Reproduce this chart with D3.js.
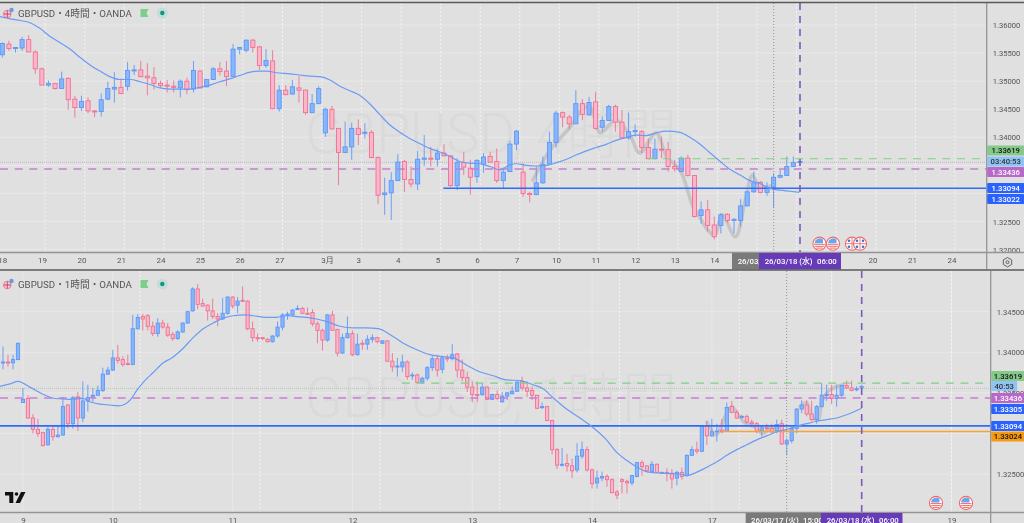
<!DOCTYPE html>
<html><head><meta charset="utf-8">
<script src="https://cdn.jsdelivr.net/npm/d3@7/dist/d3.min.js"></script>
<style>
html,body{margin:0;padding:0;background:#e0e0e0;overflow:hidden}
svg{display:block;filter:blur(0.45px)}
text{font-family:Roboto,"Noto Sans CJK JP",sans-serif}
</style></head><body><svg id="c" width="1024" height="523"></svg>
<script>
// ---- 4h panel (prices in 1/10000 units) ----
const open4h=[
13547,13566,13558,13559,13574,13552,13522,13493,13496,13487,
13505,13468,13453,13465,13447,13446,13468,13486,13489,13491,
13519,13520,13509,13506,13496,13493,13491,13488,13500,13486,
13518,13490,13503,13522,13518,13508,13557,13555,13573,13561,
13528,13536,13451,13484,13477,13488,13484,13444,13460,13408,
13450,13416,13373,13383,13416,13408,13409,13364,13298,13301,
13323,13357,13325,13317,13361,13363,13361,13372,13367,13314,
13355,13345,13330,13352,13366,13357,13323,13339,13388,13338,
13300,13298,13319,13352,13391,13444,13436,13424,13460,13440,
13463,13418,13430,13455,13427,13399,13410,13410,13382,13362,
13379,13378,13348,13339,13363,13332,13261,13271,13244,13243,
13263,13253,13252,13278,13303,13320,13302,13311,13329,13332,
13348,13356];
const high4h=[
13569,13572,13560,13579,13582,13555,13524,13501,13497,13517,
13507,13474,13474,13471,13449,13478,13499,13516,13505,13534,
13529,13536,13532,13525,13501,13502,13501,13503,13506,13536,
13520,13504,13525,13534,13536,13566,13561,13574,13575,13563,
13557,13555,13493,13493,13502,13509,13485,13477,13491,13453,
13456,13416,13428,13426,13432,13425,13413,13366,13328,13338,
13370,13360,13348,13376,13404,13383,13379,13388,13368,13363,
13374,13360,13361,13372,13374,13380,13346,13394,13413,13354,
13303,13349,13366,13410,13447,13446,13440,13484,13468,13472,
13481,13437,13458,13458,13449,13444,13423,13413,13398,13398,
13401,13392,13360,13366,13369,13333,13286,13288,13259,13265,
13265,13256,13290,13304,13339,13322,13320,13336,13342,13366,
13366,13358];
const low4h=[
13542,13554,13551,13554,13552,13513,13493,13490,13485,13487,
13449,13435,13447,13443,13436,13437,13466,13462,13477,13483,
13511,13507,13475,13485,13488,13480,13480,13471,13477,13480,
13487,13489,13503,13510,13491,13507,13548,13551,13551,13520,
13524,13450,13446,13475,13477,13462,13440,13443,13459,13401,
13414,13315,13372,13360,13386,13398,13363,13281,13262,13253,
13322,13303,13311,13306,13349,13348,13348,13366,13312,13306,
13333,13298,13319,13337,13355,13319,13309,13339,13377,13294,
13284,13297,13317,13351,13382,13418,13414,13424,13431,13439,
13414,13410,13429,13410,13398,13396,13401,13372,13361,13361,
13363,13339,13339,13338,13330,13257,13246,13232,13218,13229,
13248,13229,13241,13277,13301,13300,13296,13274,13327,13331,
13347,13355];
const close4h=[
13567,13558,13560,13574,13552,13522,13493,13496,13487,13504,
13467,13453,13464,13447,13446,13467,13487,13489,13478,13519,
13520,13508,13506,13496,13492,13491,13489,13500,13485,13519,
13488,13503,13522,13517,13508,13557,13560,13573,13560,13528,
13537,13451,13484,13476,13490,13484,13444,13460,13487,13450,
13415,13373,13383,13416,13405,13409,13364,13297,13301,13323,
13356,13325,13317,13361,13363,13361,13372,13367,13314,13355,
13347,13329,13359,13365,13356,13323,13338,13388,13411,13300,
13298,13319,13352,13391,13443,13436,13424,13460,13441,13462,
13416,13430,13455,13427,13399,13410,13412,13382,13362,13379,
13378,13348,13344,13363,13332,13259,13271,13243,13223,13262,
13252,13254,13278,13303,13319,13302,13311,13329,13332,13348,
13355,13357];
const maBar4h=[-0.35,1.2,2.7,4.2,5.7,7.2,8.7,10.3,11.8,13.3,14.8,16.3,17.8,19.4,20.9,22.4,23.9,25.4,26.9,28.5,30,31.5,33,34.5,36,37.6,39.1,40.1,41.6,43.6,45.1,46.7,48.2,49.7,51.2,52.7,54.2,55.8,57.3,58.8,60.3,61.8,63.3,64.9,66.4,67.9,69.4,70.9,72.4,74,75.5,77,78,79.5,81,82.6,84.1,85.6,87.1,88.6,90.1,91.7,93.2,94.7,96.2,97.7,99.2,100.8,102.8,104.3,105.8,107.3,108.9,110.4,111.9,113.4,114.9,116.4,118,119.5,120.9];
const maVal4h=[13615,13611,13608,13604,13594,13580,13569,13557,13542,13529,13518,13508,13503,13503,13499,13494,13488,13486,13486,13486,13489,13493,13499,13504,13510,13516,13518,13518,13515,13513,13511,13509,13508,13502,13491,13483,13475,13459,13440,13422,13409,13398,13389,13380,13374,13366,13357,13354,13353,13348,13342,13351,13353,13350,13349,13350,13355,13361,13369,13376,13382,13388,13395,13400,13404,13403,13408,13411,13409,13400,13388,13373,13357,13343,13333,13323,13318,13309,13306,13304,13302];
const waveBar4h=[80.5,82.9,86.1,88.2,89.2,90.7,93.1,95.2,96.7,99.2,100.8,102.8,104.8,105.8,107,108.1,109.2,111.2,112.7,113.8,114.9,116.9];
const waveVal4h=[13324,13374,13418,13452,13454,13408,13431,13404,13372,13408,13365,13342,13276,13258,13235,13226,13262,13223,13288,13333,13312,13315];
const dayBar4h=[0,6,12,18,24,30,36,42,49.25,54,60,66,72,78,84,90,96,102,108,132,138,144];
const dayLabel4h=["18","19","20","21","24","25","26","27","3月","3","4","5","6","7","10","11","12","13","14","20","21","24"];
const gridBar4h=[6,12,18,24,30,36,42,48,54,60,66,72,78,84,90,96,102,108,114,120,126,132,138,144];
const priceTicks4h=[13200,13250,13300,13350,13400,13450,13500,13550,13600];
const shownTicks4h=[13200,13250,13400,13450,13500,13550,13600];

// ---- 1h panel ----
const open1h=[
13397,13387,13388,13387,13391,13338,13343,13319,13305,13301,
13286,13305,13296,13298,13335,13312,13345,13319,13340,13345,
13347,13353,13373,13378,13393,13391,13386,13385,13429,13444,
13445,13432,13423,13436,13431,13422,13417,13425,13436,13451,
13478,13460,13458,13451,13444,13441,13448,13468,13458,13464,
13463,13429,13418,13418,13416,13413,13420,13431,13446,13446,
13453,13454,13448,13449,13435,13427,13415,13446,13428,13399,
13418,13423,13397,13411,13410,13416,13418,13411,13414,13389,
13382,13382,13388,13371,13372,13363,13368,13381,13392,13379,
13393,13392,13398,13378,13369,13357,13348,13348,13357,13342,
13348,13339,13346,13349,13352,13364,13356,13353,13347,13332,
13333,13316,13280,13261,13263,13260,13255,13272,13280,13255,
13239,13245,13247,13243,13228,13243,13241,13239,13247,13264,
13260,13253,13262,13252,13252,13251,13245,13252,13248,13273,
13280,13278,13309,13297,13302,13304,13303,13333,13326,13320,
13321,13314,13312,13303,13307,13306,13303,13312,13287,13291,
13306,13330,13335,13324,13317,13333,13347,13348,13343,13347,
13359,13356,13354,13356];
const high1h=[
13407,13407,13397,13397,13412,13356,13347,13324,13318,13302,
13308,13309,13310,13345,13336,13346,13351,13364,13360,13356,
13359,13381,13382,13403,13409,13395,13397,13446,13447,13447,
13447,13438,13442,13440,13436,13425,13427,13437,13451,13480,
13484,13466,13459,13466,13448,13467,13469,13469,13468,13481,
13464,13438,13423,13419,13417,13421,13438,13448,13450,13453,
13458,13456,13455,13453,13438,13429,13447,13451,13429,13423,
13444,13427,13423,13415,13421,13422,13419,13415,13415,13399,
13393,13397,13390,13375,13374,13370,13383,13395,13397,13396,
13397,13410,13399,13391,13376,13364,13364,13362,13358,13349,
13353,13351,13351,13358,13366,13370,13364,13358,13347,13338,
13334,13317,13282,13282,13275,13269,13288,13290,13284,13257,
13254,13253,13250,13245,13230,13245,13243,13249,13265,13267,
13261,13266,13263,13253,13257,13256,13254,13258,13274,13284,
13290,13310,13315,13318,13312,13318,13338,13340,13329,13323,
13323,13317,13314,13310,13312,13312,13317,13317,13294,13308,
13331,13341,13341,13340,13335,13362,13360,13360,13360,13360,
13365,13365,13358,13360];
const low1h=[
13386,13379,13382,13379,13390,13338,13318,13300,13296,13284,
13285,13291,13295,13297,13306,13306,13303,13314,13327,13339,
13347,13351,13372,13377,13386,13382,13384,13384,13428,13427,
13427,13420,13419,13429,13419,13414,13415,13424,13435,13450,
13453,13456,13439,13441,13432,13440,13446,13454,13448,13462,
13427,13413,13413,13415,13412,13412,13418,13427,13440,13445,
13452,13447,13446,13432,13411,13402,13413,13427,13395,13398,
13417,13395,13396,13403,13403,13412,13411,13410,13388,13376,
13370,13376,13366,13366,13362,13361,13365,13377,13370,13374,
13388,13390,13369,13364,13351,13339,13338,13346,13341,13341,
13341,13338,13341,13348,13351,13353,13345,13341,13330,13330,
13315,13274,13256,13259,13253,13245,13252,13269,13253,13232,
13232,13241,13234,13226,13219,13226,13226,13236,13246,13248,
13252,13252,13251,13251,13241,13232,13236,13243,13247,13272,
13275,13277,13286,13296,13290,13300,13302,13325,13318,13318,
13312,13310,13300,13296,13304,13300,13300,13286,13273,13288,
13300,13325,13321,13315,13312,13332,13340,13336,13333,13345,
13355,13352,13352,13355];
const close1h=[
13387,13388,13387,13391,13411,13342,13319,13305,13300,13285,
13305,13296,13298,13333,13312,13344,13319,13340,13344,13347,
13353,13373,13378,13393,13390,13385,13385,13429,13443,13441,
13432,13423,13436,13431,13421,13417,13425,13436,13450,13478,
13459,13457,13451,13444,13441,13448,13468,13457,13463,13463,
13429,13418,13417,13417,13413,13420,13431,13446,13447,13452,
13454,13448,13447,13435,13427,13415,13446,13427,13399,13418,
13423,13397,13410,13410,13416,13418,13413,13414,13389,13382,
13383,13388,13370,13372,13363,13368,13381,13392,13378,13393,
13392,13397,13378,13369,13357,13348,13347,13357,13342,13348,
13343,13346,13350,13352,13363,13356,13352,13347,13331,13333,
13316,13280,13261,13262,13260,13254,13272,13280,13255,13238,
13245,13247,13243,13227,13224,13241,13239,13248,13264,13259,
13254,13262,13252,13252,13251,13244,13252,13247,13273,13280,
13278,13309,13297,13302,13303,13302,13332,13326,13319,13321,
13314,13312,13303,13307,13306,13302,13311,13287,13291,13306,
13330,13335,13324,13317,13333,13347,13348,13343,13347,13359,
13356,13353,13355,13358];
const maBar1h=[0.4,2.4,4,6.4,9.1,11.4,14.4,17.1,18.4,20.4,22.4,24.1,25.4,26.6,27.8,29.1,31.1,33.1,34.8,37.1,39.1,41.1,43.1,45.1,47.1,49.5,51.1,53.8,55.8,57.8,59.8,61.8,63.8,65.8,68.5,71.2,73.8,76.2,78.5,81.2,83.9,86.5,88.5,91.2,93.9,96.5,99.2,101.9,104.6,107.2,109.2,111.2,113.9,116.6,118.6,121.9,123.9,125.9,127.9,129.9,132.6,136.6,137.9,139.9,141.9,144,146,148,150,152,154,156,158,160,162,164,166,168,170,173];
const maVal1h=[13358,13361,13364,13357,13348,13343,13342,13343,13339,13336,13335,13334,13336,13342,13353,13363,13375,13387,13393,13405,13418,13429,13436,13442,13445,13446,13445,13443,13443,13445,13444,13443,13441,13438,13432,13430,13430,13429,13422,13411,13403,13397,13395,13393,13384,13376,13371,13366,13365,13360,13355,13344,13330,13319,13310,13292,13277,13267,13259,13253,13251,13250,13248,13252,13258,13265,13273,13280,13286,13292,13297,13302,13305,13309,13312,13315,13317,13319,13323,13331];
const waveABar1h=[142,143.8,145.6,147,148,149.6,151.6,153.2,155,156.2];
const waveAVal1h=[13314,13298,13320,13333,13325,13313,13308,13300,13307,13307];
const waveBBar1h=[160.7,162,163,164.3,165,166,167.7,169.3];
const waveBVal1h=[13333,13338,13320,13317,13338,13350,13357,13360];
const dayBar1h=[5,23,47,71,95,119,143,191];
const dayLabel1h=["9","10","11","12","13","14","17","19"];
const gridBar1h=[28.5,52.5,76.5,100.5,124.5,148.5,167,191];
const dayLine1h=[5,23,47,71,95,119,143,167,191];
const priceTicks1h=[13250,13300,13350,13400,13450];
const shownTicks1h=[13250,13350,13400,13450];

// ---- levels ----
const levelPurple=13343.6, levelGreen=13361.9, levelBlue=13309.4, levelOrange=13302.4, lastPrice=13355.5;
const tagText4h=["1.33619","03:40:53","1.33436","1.33094","1.33022"];
const tagFill4h=["#86c98a","#90c4f5","#b768c9","#2962ff","#2962ff"];
const tagInk4h=["#111","#333","#fff","#fff","#fff"];
const tagText1h=["1.33619","40:53","1.33436","1.33305","1.33094","1.33024"];
const tagFill1h=["#86c98a","#90c4f5","#b768c9","#2962ff","#2962ff","#f79a0f"];
const tagInk1h=["#111","#333","#fff","#fff","#fff","#111"];

const svg=d3.select("#c");
const UP="#5f97f7",UPF="#86b6fb",DN="#ef7093",DNF="#fdb6c9",AX="#949494",INK="#555";

function panel(cfg){
  const {top,bottom,axisX,x,y,grid,dayLine}=cfg;
  const root=svg.append("g");
  const clipId="clip"+cfg.name;
  svg.append("defs").append("clipPath").attr("id",clipId).append("rect")
    .attr("x",0).attr("y",top).attr("width",axisX).attr("height",bottom-top);
  const plot=root.append("g").attr("clip-path",`url(#${clipId})`);
  // grid
  plot.selectAll(".h").data(cfg.priceTicks).join("line").attr("x1",0).attr("x2",axisX)
    .attr("y1",d=>y(d)).attr("y2",d=>y(d)).attr("stroke","#e9e9e9").attr("stroke-width",1);
  if(dayLine) plot.selectAll(".vs").data(dayLine).join("line").attr("x1",d=>x(d)).attr("x2",d=>x(d))
    .attr("y1",top).attr("y2",bottom).attr("stroke","#e8e8e8").attr("stroke-width",1);
  plot.selectAll(".v").data(grid).join("line").attr("x1",d=>x(d)+cfg.gridShift).attr("x2",d=>x(d)+cfg.gridShift)
    .attr("y1",top).attr("y2",bottom).attr("stroke","#f4f4f4").attr("stroke-width",1).attr("stroke-dasharray","2 2");
  // watermark
  plot.append("text").attr("x",cfg.wmX).attr("y",cfg.wmY).attr("font-size",55).attr("fill","#dadada")
    .attr("font-weight",300).text(cfg.watermark);
  // thick grey freehand strokes
  const wave=d3.line().x(d=>x(d[0])).y(d=>y(d[1])).curve(d3.curveCatmullRom.alpha(0.5));
  cfg.waves.forEach(w=>{
    plot.append("path").attr("d",wave(w[0].map((b,i)=>[b,w[1][i]]))).attr("fill","none")
      .attr("stroke","#c6c6c6").attr("stroke-width",3.6).attr("stroke-linecap","round").attr("stroke-linejoin","round");
  });
  // last price
  plot.append("line").attr("x1",0).attr("x2",axisX).attr("y1",y(lastPrice)).attr("y2",y(lastPrice))
    .attr("stroke","#bcbcbc").attr("stroke-width",1).attr("stroke-dasharray","1 1");
  // candles
  const idx=d3.range(cfg.o.length);
  const g=plot.append("g");
  g.selectAll(".w").data(idx).join("line")
    .attr("x1",i=>x(i)).attr("x2",i=>x(i)).attr("y1",i=>y(cfg.h[i])).attr("y2",i=>y(cfg.l[i]))
    .attr("stroke",i=>cfg.c[i]>=cfg.o[i]?UP:DN).attr("stroke-width",0.9);
  g.selectAll(".b").data(idx).join("rect")
    .attr("x",i=>x(i)-cfg.bw/2).attr("width",cfg.bw)
    .attr("y",i=>Math.min(y(cfg.o[i]),y(cfg.c[i])))
    .attr("height",i=>Math.max(1,Math.abs(y(cfg.o[i])-y(cfg.c[i]))))
    .attr("fill",i=>cfg.c[i]>=cfg.o[i]?UPF:DNF).attr("stroke",i=>cfg.c[i]>=cfg.o[i]?UP:DN).attr("stroke-width",0.9);
  // levels
  const lv=(p,x1,col,w,dash)=>plot.append("line").attr("x1",x1).attr("x2",axisX).attr("y1",y(p)).attr("y2",y(p))
     .attr("stroke",col).attr("stroke-width",w).attr("stroke-dasharray",dash||null);
  lv(levelGreen,x(cfg.greenFrom),"#7fcf80",1.2,"8 6.7");
  lv(levelPurple,0,"#c67ed2",1.5,"8 6.7");
  lv(levelBlue,cfg.blueFrom==null?0:x(cfg.blueFrom),"#2f6df6",1.7);
  if(cfg.orangeFrom!=null) lv(levelOrange,x(cfg.orangeFrom),"#f4a43a",1.5);
  // moving average
  const ma=d3.line().x(d=>x(d[0])).y(d=>y(d[1])).curve(d3.curveMonotoneX);
  plot.append("path").attr("d",ma(cfg.maBar.map((b,i)=>[b,cfg.maVal[i]]))).attr("fill","none")
    .attr("stroke","#6b9bf5").attr("stroke-width",1.2);
  // verticals
  plot.append("line").attr("x1",cfg.dotX).attr("x2",cfg.dotX).attr("y1",top).attr("y2",bottom)
    .attr("stroke","#8a8a8a").attr("stroke-width",0.9).attr("stroke-dasharray","1 2");
  plot.append("line").attr("x1",cfg.dashX).attr("x2",cfg.dashX).attr("y1",top).attr("y2",bottom)
    .attr("stroke","#7d58c4").attr("stroke-width",1.6).attr("stroke-dasharray","7 6");
  // axes
  const ya=d3.axisRight(y).tickValues(cfg.shownTicks).tickSize(0).tickPadding(0)
    .tickFormat(d=>(d/10000).toFixed(5));
  const yg=root.append("g").attr("transform",`translate(${cfg.tickX},0)`).call(ya);
  yg.select(".domain").remove();
  yg.selectAll("text").attr("font-size",7.6).attr("fill",INK).attr("font-family","Roboto,sans-serif");
  root.append("line").attr("x1",axisX).attr("x2",axisX).attr("y1",top).attr("y2",cfg.axisBottom)
    .attr("stroke",AX).attr("stroke-width",1.3);
  const xa=d3.axisBottom(x).tickValues(cfg.dayBar).tickSize(0).tickPadding(0)
    .tickFormat((d,i)=>cfg.dayLabel[i]);
  const xg=root.append("g").attr("transform",`translate(0,${bottom+cfg.xLabelDy})`).call(xa);
  xg.select(".domain").remove();
  xg.selectAll("text").attr("font-size",8).attr("fill",INK).attr("font-family","Roboto,'Noto Sans CJK JP',sans-serif");
  root.append("line").attr("x1",0).attr("x2",1024).attr("y1",bottom+0.5).attr("y2",bottom+0.5)
    .attr("stroke",AX).attr("stroke-width",1.4);
  // date tags
  const tag=(x0,x1,fill,t1,t1x,t2,t2x)=>{
    root.append("rect").attr("x",x0).attr("y",bottom+1).attr("width",x1-x0).attr("height",cfg.tagH).attr("fill",fill);
    root.append("text").attr("x",t1x).attr("y",bottom+cfg.tagBase).attr("font-size",7.8).attr("font-weight",500).attr("fill","#fff").text(t1);
    if(t2) root.append("text").attr("x",t2x).attr("y",bottom+cfg.tagBase).attr("font-size",7.8).attr("font-weight",500).attr("fill","#fff").text(t2);
  };
  tag(cfg.grayTag[0],cfg.grayTag[1],"#7a7a7a",cfg.grayText[0],cfg.grayTag[2],cfg.grayText[1],cfg.grayTag[3]);
  tag(cfg.purpleTag[0],cfg.purpleTag[1],"#673ab7","26/03/18 (水)",cfg.purpleTag[2],"06:00",cfg.purpleTag[3]);
  // price tags
  cfg.tagText.forEach((t,i)=>{
    const cy=cfg.tagY[i], w=cfg.tagW[i];
    root.append("rect").attr("x",axisX+0.5).attr("y",cy-5).attr("width",w).attr("height",10).attr("rx",1).attr("fill",cfg.tagFill[i]);
    root.append("text").attr("x",axisX+0.5+w/2).attr("y",cy+2.8).attr("text-anchor","middle").attr("font-size",7.7)
      .attr("font-weight",500).attr("fill",cfg.tagInk[i]).text(t);
  });
  // header
  root.append("text").attr("x",18).attr("y",cfg.headY).attr("font-size",9.7).attr("fill","#555").text(cfg.header);
  const hy=cfg.headY-4;
  root.append("circle").attr("cx",7.3).attr("cy",hy+1).attr("r",3.8).attr("fill","#f3c6d0").attr("stroke","#d96a85").attr("stroke-width",0.7);
  root.append("path").attr("d",`M3.6 ${hy+1}H11M7.3 ${hy-2.7}V${hy+4.7}`).attr("stroke","#c9415f").attr("stroke-width",0.9);
  root.append("circle").attr("cx",11.5).attr("cy",hy-3).attr("r",2.2).attr("fill","#6b97e8");
  root.append("path").attr("d",`M140.5 ${hy-4}H148.5L146.5 ${hy}L148.5 ${hy+4}H140.5Z`).attr("fill","#7ccf86");
  root.append("circle").attr("cx",162.3).attr("cy",hy).attr("r",5.6).attr("fill","#c6dcd8");
  root.append("circle").attr("cx",162.3).attr("cy",hy).attr("r",2.2).attr("fill","#089981");
  return root;
}

function usFlag(cx,cy){
  const g=svg.append("g").attr("transform",`translate(${cx},${cy})`);
  g.append("circle").attr("r",6.6).attr("fill","#fff").attr("stroke","#f06a6a").attr("stroke-width",1.1);
  [0.6,2.6,4.4].forEach(d=>g.append("line").attr("x1",-Math.sqrt(30-d*d)).attr("x2",Math.sqrt(30-d*d)).attr("y1",d).attr("y2",d).attr("stroke","#f06a6a").attr("stroke-width",1));
  g.append("path").attr("d","M-5 -0.5A5.2 5.2 0 0 1 3.5 -4.2V-0.5Z").attr("fill","#6aa6ee");
}
function altFlag(cx,cy){
  const g=svg.append("g").attr("transform",`translate(${cx},${cy})`);
  g.append("circle").attr("r",6.6).attr("fill","#fff").attr("stroke","#f06a6a").attr("stroke-width",1.1);
  g.append("path").attr("d","M-6 0H6M0 -6V6").attr("stroke","#f06a6a").attr("stroke-width",0.9);
  [[-3,-3],[3,-3],[-3,3],[3,3]].forEach(p=>g.append("circle").attr("cx",p[0]).attr("cy",p[1]).attr("r",1.3).attr("fill","#3f73c9"));
}

panel({name:"a",top:3,bottom:252,axisX:986.7,axisBottom:269,
  x:d3.scaleLinear().domain([0,121]).range([2.33,799.96]),
  y:d3.scaleLinear().domain([13200,13600]).range([249.68,25]),
  o:open4h,h:high4h,l:low4h,c:close4h,bw:4.1,
  maBar:maBar4h,maVal:maVal4h,waves:[[waveBar4h,waveVal4h]],
  grid:gridBar4h,gridShift:3.3,priceTicks:priceTicks4h,shownTicks:shownTicks4h,tickX:992.7,
  dayBar:dayBar4h,dayLabel:dayLabel4h,xLabelDy:5,
  watermark:"GBPUSD, 4時間",wmX:305,wmY:153,
  greenFrom:98,blueFrom:66.9,orangeFrom:null,dotX:773.7,dashX:800,
  grayTag:[732,759.5,737.7,0],grayText:["26/03/",""],purpleTag:[759,841,764.7,817],tagH:16.5,tagBase:12,
  tagText:tagText4h,tagFill:tagFill4h,tagInk:tagInk4h,tagY:[150.5,161.5,172,188,199],tagW:[37,37,37,37,37],
  header:"GBPUSD・4時間・OANDA",headY:17});

panel({name:"b",top:271,bottom:512,axisX:990.7,axisBottom:523,
  x:d3.scaleLinear().domain([0,173]).range([-2,861.6]),
  y:d3.scaleLinear().domain([13250,13450]).range([474,311.67]),
  o:open1h,h:high1h,l:low1h,c:close1h,bw:3.2,
  maBar:maBar1h,maVal:maVal1h,waves:[[waveABar1h,waveAVal1h],[waveBBar1h,waveBVal1h]],
  grid:gridBar1h,gridShift:0,dayLine:dayLine1h,priceTicks:priceTicks1h,shownTicks:shownTicks1h,tickX:996.7,
  dayBar:dayBar1h,dayLabel:dayLabel1h,xLabelDy:5,
  watermark:"GBPUSD, 1時間",wmX:305,wmY:417,
  greenFrom:80.9,blueFrom:null,orangeFrom:145.2,dotX:786.7,dashX:861.7,
  grayTag:[745.7,822,751,803],grayText:["26/03/17 (火)","15:00"],purpleTag:[821,902.5,826.7,879],tagH:11,tagBase:11,
  tagText:tagText1h,tagFill:tagFill1h,tagInk:tagInk1h,tagY:[376,386,398,409,426,436.5],tagW:[33.3,26,33.3,33.3,33.3,33.3],
  header:"GBPUSD・1時間・OANDA",headY:288});

// separators
[[2.5],[270]].forEach(d=>svg.append("line").attr("x1",0).attr("x2",1024).attr("y1",d[0]).attr("y2",d[0]).attr("stroke","#5a5a5a").attr("stroke-width",1.6));

// calendar markers
usFlag(819.5,243.7);usFlag(833,243.7);altFlag(852,243.7);altFlag(860,243.7);
usFlag(936,503);usFlag(966,503);

// settings icon
svg.append("path").attr("d","M1007.5 257.5l4.2 2.4v4.6l-4.2 2.4l-4.2 -2.4v-4.6z").attr("fill","none").attr("stroke","#555").attr("stroke-width",0.9);
svg.append("circle").attr("cx",1007.5).attr("cy",262.2).attr("r",1.5).attr("fill","none").attr("stroke","#555").attr("stroke-width",0.9);

// logo
svg.append("path").attr("d","M5 492H13.3V503H9.3V495.5H5Z").attr("fill","#111");
svg.append("circle").attr("cx",16.5).attr("cy",494).attr("r",1.8).attr("fill","#111");
svg.append("path").attr("d","M21 492H25.5L20 503H15.5Z").attr("fill","#111");
</script></body></html>
